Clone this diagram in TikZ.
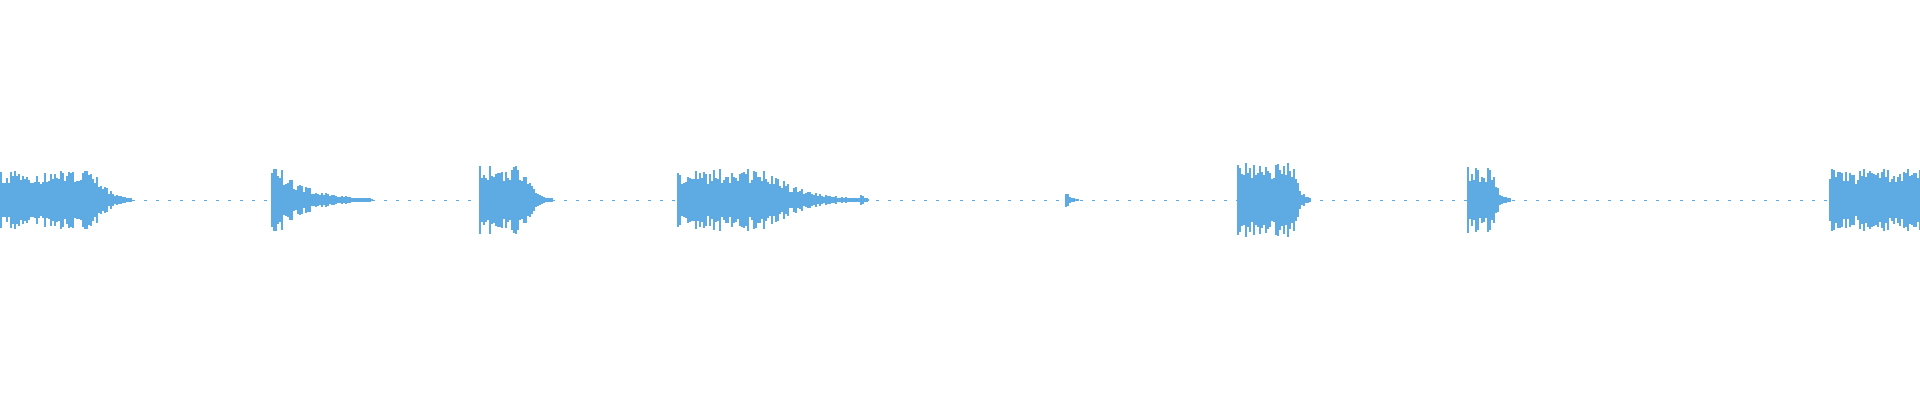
\documentclass[tikz,border=0pt]{standalone}
\usepackage{tikz}
\definecolor{wave}{RGB}{93, 171, 226}

% one burst: start, length, amplitude, hold, decay
\newcommand{\burst}[5]{%
    \foreach \i in {0,2,...,#2}{%
        \pgfmathsetmacro{\env}{exp(-max(\i-#4,0)/#5)}%
        \pgfmathsetmacro{\h}{#3*\env*(0.5+0.5*rnd)+0.6}%
        \fill[wave] (#1+\i,200-\h) rectangle ++(2,2*\h);
    }%
}

\begin{document}
\begin{tikzpicture}[x=1pt, y=1pt]
    \useasboundingbox (0,0) rectangle (1920,400);
    \pgfmathsetseed{7}
    
    % silent baseline
    \draw[wave, line width=1pt, dash pattern=on 3pt off 9pt] (0,200) -- (1920,200);
    
    % Bursts
    \burst{0}{130}{29}{95}{12}
    \burst{271}{100}{32}{8}{30}
    \burst{479}{72}{35}{45}{8}
    \burst{677}{190}{31}{90}{30}
    \burst{860}{6}{5}{2}{3}
    \burst{1065}{12}{6}{2}{4}
    \burst{1237}{72}{38}{55}{6}
    \burst{1467}{42}{33}{25}{5}
    \burst{1829}{91}{31}{100}{10}
\end{tikzpicture}
\end{document}
